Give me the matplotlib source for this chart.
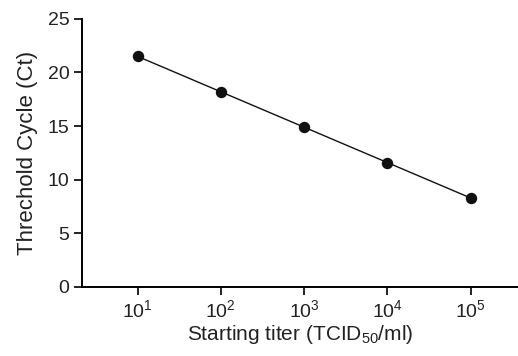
import numpy as np
import matplotlib
matplotlib.use('Agg')
import matplotlib.pyplot as plt

plt.rcParams['font.family'] = ['Liberation Sans', 'DejaVu Sans']
plt.rcParams['mathtext.fontset'] = 'custom'
plt.rcParams['mathtext.rm'] = 'Liberation Sans'

titer = [1e1, 1e2, 1e3, 1e4, 1e5]
ct = [21.5, 18.2, 14.9, 11.6, 8.3]
yticks = [0, 5, 10, 15, 20, 25]

fig = plt.figure(figsize=(5.18, 3.56), dpi=100)
ax = fig.add_axes([0.158, 0.194, 0.842, 0.753])
ax.plot(titer, ct, color='#111111', lw=1.0, marker='o', ms=7.2,
        mfc='#111111', mec='#111111', clip_on=False)

ax.set_xscale('log')
ax.set_xlim(10**0.33, 10**5.57)
ax.set_ylim(0, 25)
ax.set_xticks(titer)
ax.set_xticklabels([r'$\mathregular{10^{%d}}$' % i for i in range(1, 6)])
ax.xaxis.set_minor_locator(matplotlib.ticker.NullLocator())
ax.set_yticks(yticks)

for s in ['top', 'right']:
    ax.spines[s].set_visible(False)
for s in ['left', 'bottom']:
    ax.spines[s].set_linewidth(1.4)
ax.tick_params(axis='both', direction='out', length=6, width=1.4,
               labelsize=14, colors='#222222', pad=3)

ax.set_xlabel(r'Starting titer (TCID$\mathregular{_{50}}$/ml)', fontsize=15,
              color='#222222', labelpad=1)
ax.set_ylabel('Threchold Cycle (Ct)', fontsize=16, color='#222222', labelpad=7)

fig.savefig('out.png', dpi=100)
